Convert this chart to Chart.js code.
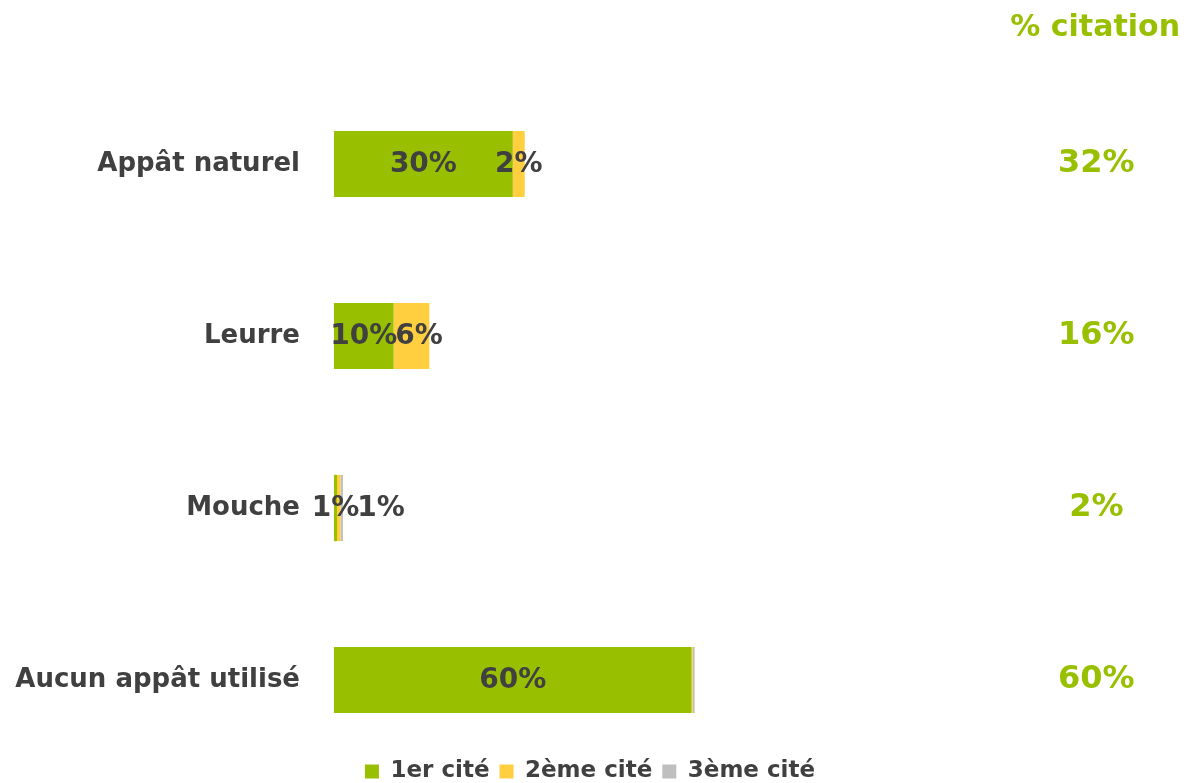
<!DOCTYPE html>
<html>
<head>
<meta charset="utf-8">
<script src="https://cdn.jsdelivr.net/npm/chart.js@4.4.0/dist/chart.umd.min.js"></script>
<style>
    html, body { margin: 0; padding: 0; background: #fff; }
    canvas { display: block; }
</style>
</head>
<body>
<canvas id="statchart" width="1184" height="783"></canvas>
<script>
var categories = ['Appât naturel', 'Leurre', 'Mouche', 'Aucun appât utilisé'];
var premier = [30, 10, 0.5, 60];
var deuxieme = [2, 6, 0.6, 0.2];
var troisieme = [0, 0, 0.4, 0.3];
var premierLabels = ['30%', '10%', '1%', '60%'];
var deuxiemeLabels = ['2%', '6%', '', ''];
var troisiemeLabels = ['', '', '1%', ''];
var citation = ['32%', '16%', '2%', '60%'];

var green = '#99C000';
var yellow = '#FFCF40';
var grey = '#BFBFBF';
var dark = '#404040';
var fontFamily = '"DejaVu Sans", Verdana, sans-serif';

// labels inside the bars, pushed right when two would overlap
var barLabels = {
    id: 'barLabels',
    afterDatasetsDraw: function (chart) {
        var ctx = chart.ctx;
        var lastRight = {};
        ctx.save();
        ctx.font = 'bold 28px ' + fontFamily;
        ctx.fillStyle = dark;
        ctx.textBaseline = 'middle';
        ctx.textAlign = 'left';
        chart.data.datasets.forEach(function (ds, di) {
            var meta = chart.getDatasetMeta(di);
            meta.data.forEach(function (bar, i) {
                var txt = ds.labelTexts[i];
                if (!txt) return;
                var w = ctx.measureText(txt).width;
                var left = (bar.x + bar.base) / 2 - w / 2;
                if (lastRight[i] !== undefined && left < lastRight[i]) {
                    left = lastRight[i] - 2;
                }
                ctx.fillText(txt, left, bar.y + 1);
                lastRight[i] = left + w;
            });
        });
        ctx.restore();
    }
};

var ctx = document.getElementById('statchart').getContext('2d');
var chart = new Chart(ctx, {
    type: 'bar',
    data: {
        labels: categories,
        datasets: [
            {label: '1er cité', data: premier, labelTexts: premierLabels, backgroundColor: green},
            {label: '2ème cité', data: deuxieme, labelTexts: deuxiemeLabels, backgroundColor: yellow},
            {label: '3ème cité', data: troisieme, labelTexts: troisiemeLabels, backgroundColor: grey}
        ]
    },
    options: {
        indexAxis: 'y',
        responsive: false,
        animation: false,
        layout: {padding: {left: 0, right: 4, top: 0, bottom: -10}},
        datasets: {
            bar: {barPercentage: 0.385, categoryPercentage: 1, clip: false, borderWidth: 0}
        },
        scales: {
            x: {
                stacked: true,
                min: 0,
                max: 100,
                grid: {display: false, drawTicks: false},
                border: {display: false},
                ticks: {display: false},
                afterFit: function (s) { s.height = 70; }
            },
            y: {
                stacked: true,
                offset: false,
                grid: {display: false, drawTicks: false},
                border: {display: false},
                ticks: {
                    color: dark,
                    padding: 34,
                    font: {family: fontFamily, size: 26, weight: 'bold'}
                },
                afterFit: function (s) {
                    s.width = 334;
                    s.paddingTop = 0;
                    s.paddingBottom = 0;
                }
            },
            y2: {
                type: 'category',
                axis: 'y',
                position: 'right',
                labels: citation,
                offset: false,
                grid: {display: false, drawTicks: false},
                border: {display: false},
                ticks: {
                    color: green,
                    crossAlign: 'center',
                    padding: 128,
                    font: {family: fontFamily, size: 32, weight: 'bold'}
                },
                afterFit: function (s) {
                    s.width = 250;
                    s.paddingTop = 0;
                    s.paddingBottom = 0;
                }
            }
        },
        plugins: {
            title: {
                display: true,
                text: '% citation',
                align: 'end',
                color: green,
                font: {family: fontFamily, size: 30, weight: 'bold'},
                padding: {top: 10, bottom: 118}
            },
            legend: {
                position: 'bottom',
                labels: {
                    color: dark,
                    boxWidth: 14,
                    boxHeight: 14,
                    padding: 10,
                    font: {family: fontFamily, size: 23, weight: 'bold'}
                }
            },
            tooltip: {enabled: false}
        }
    },
    plugins: [barLabels]
});
</script>
</body>
</html>
